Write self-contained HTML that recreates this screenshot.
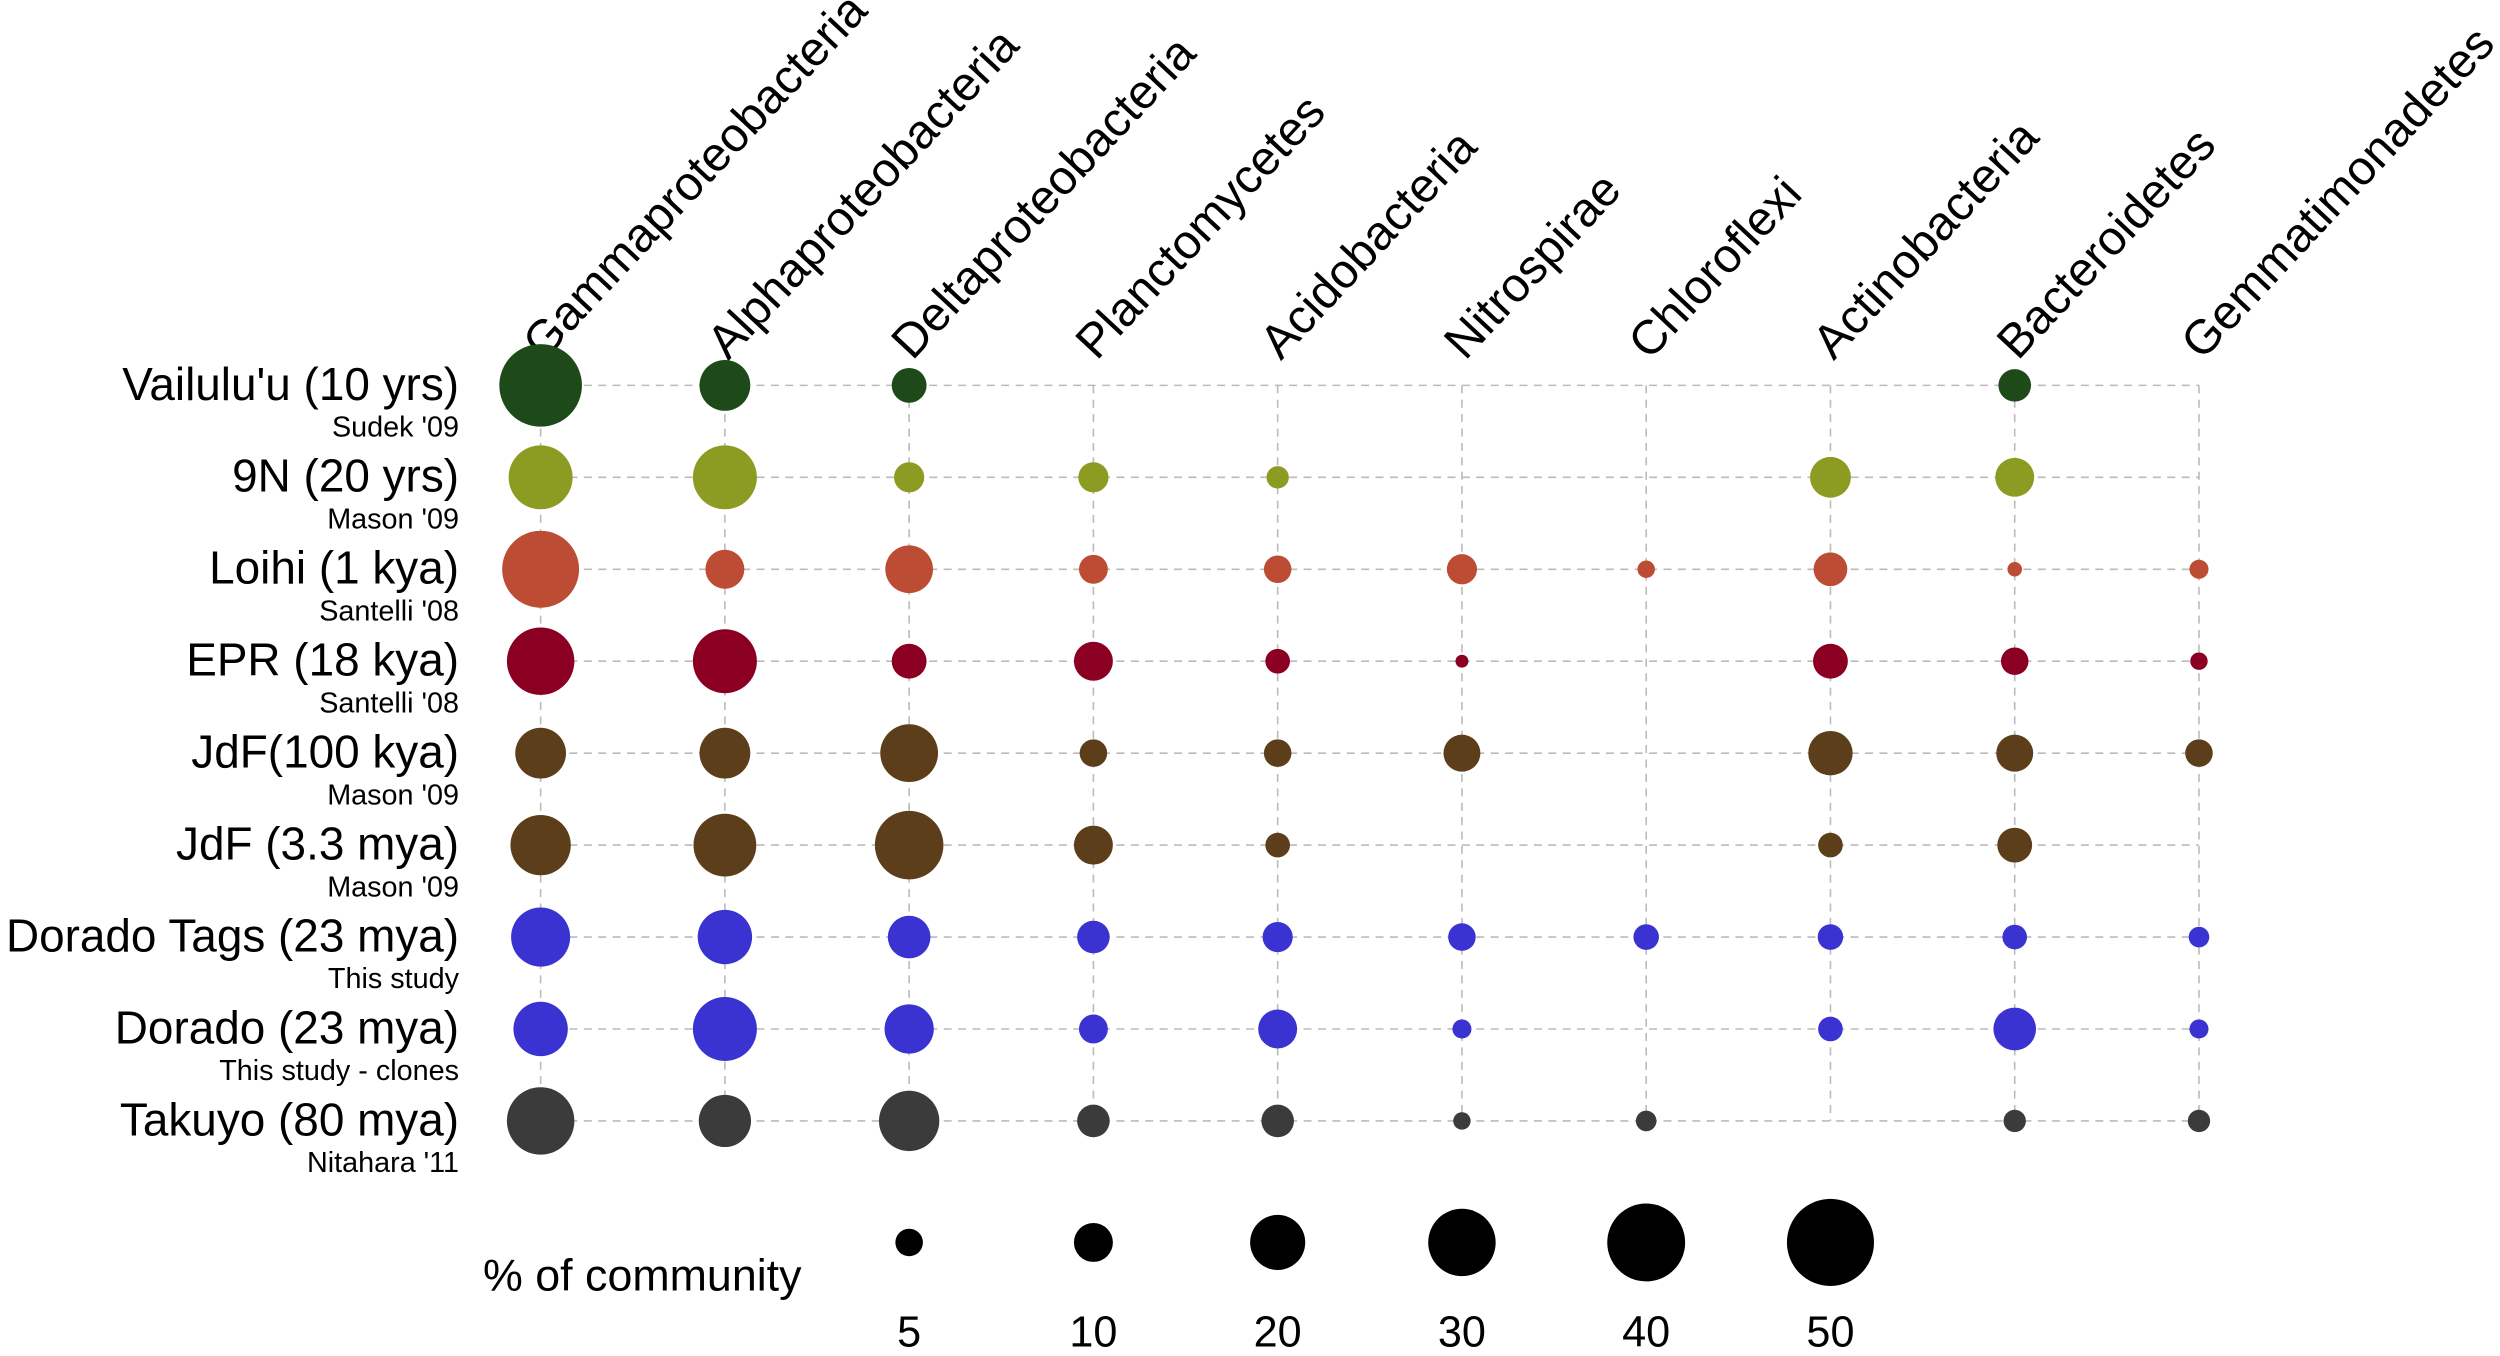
<!DOCTYPE html>
<html><head><meta charset="utf-8"><style>
html,body{margin:0;padding:0;background:#fff;}
svg{display:block;font-family:"Liberation Sans",sans-serif;}
</style></head><body>
<svg id="chart" width="2500" height="1356" viewBox="0 0 1563 848" preserveAspectRatio="none" xmlns="http://www.w3.org/2000/svg">
<g id="grid"></g>
<g id="headers"></g>
<g id="rows"></g>
<g id="bubbles"></g>
<g id="legend"></g>
</svg>
<script>
const taxa = ["Gammaproteobacteria","Alphaproteobacteria","Deltaproteobacteria","Planctomycetes","Acidobacteria","Nitrospirae","Chloroflexi","Actinobacteria","Bacteroidetes","Gemmatimonadetes"];
const sites = ["Vailulu'u (10 yrs)","9N (20 yrs)","Loihi (1 kya)","EPR (18 kya)","JdF(100 kya)","JdF (3.3 mya)","Dorado Tags (23 mya)","Dorado (23 mya)","Takuyo (80 mya)"];
const sources = ["Sudek '09","Mason '09","Santelli '08","Santelli '08","Mason '09","Mason '09","This study","This study - clones","Nitahara '11"];
const colors = ["#1d4a18","#8c9b22","#bd4c34","#8b0022","#5c3f1a","#5c3f1a","#3a33d2","#3a33d2","#3b3b3b"];
const vailulu = [45,17,8,0,0,0,0,0,7,0];
const nineN = [27,27,6,6,3.3,0,0,11,10,0];
const loihi = [39,10,15,5.5,5,6,2,7.5,1.4,2.4];
const epr = [30,27,8,10,4,1.1,0,8,5,2];
const jdf100 = [17,17,22,5,5,9,0,13,9,5];
const jdf33 = [24,26,31,10,4,0,0,4,8,0];
const doradoTags = [23,19.5,12,7,6,5,4.3,4.3,4,2.8];
const doradoClones = [19.5,27,16,5.5,10,2.4,0,4,12,2.4];
const takuyo = [30,18,24,7,7,2,2.8,0,3.3,3.3];
const values = [vailulu,nineN,loihi,epr,jdf100,jdf33,doradoTags,doradoClones,takuyo];
const legendValues = [5,10,20,30,40,50];

const NS="http://www.w3.org/2000/svg";
const xOf = i => 338 + i*115.2;
const yOf = j => 241 + j*57.5;
const rOf = v => 3.85*Math.sqrt(v);
function mk(tag, attrs, parent){const e=document.createElementNS(NS,tag);for(const k in attrs)e.setAttribute(k,attrs[k]);parent.appendChild(e);return e;}
const grid=document.getElementById('grid'), hd=document.getElementById('headers'), rl=document.getElementById('rows'), bb=document.getElementById('bubbles'), lg=document.getElementById('legend');
const x0=xOf(0), x1=xOf(taxa.length-1), y0=yOf(0), y1=yOf(sites.length-1);
sites.forEach((s,j)=>{
  const l=mk('line',{x1:x0,x2:x1,y1:yOf(j),y2:yOf(j),stroke:'#bbb','stroke-width':1,'stroke-dasharray':'5,4'},grid);
  
  
  const t=mk('text',{x:287,y:yOf(j)+9,'text-anchor':'end','font-size':28.7},rl);
  t.textContent=s;
  
  
  const t2=mk('text',{x:287,y:yOf(j)+32,'text-anchor':'end','font-size':18},rl);
  t2.textContent=sources[j];
  
  
});
taxa.forEach((tx,i)=>{
  const l=mk('line',{x1:xOf(i),x2:xOf(i),y1:y0,y2:y1,stroke:'#bbb','stroke-width':1,'stroke-dasharray':'5,4'},grid);
  
  
  const t=mk('text',{x:0,y:0,'font-size':30,transform:`translate(${xOf(i)+2},${226}) rotate(-47)`},hd);
  t.textContent=tx;
  
  
});
values.forEach((row,j)=>row.forEach((v,i)=>{
  if(!v) return;
  const c=mk('circle',{cx:xOf(i),cy:yOf(j),r:rOf(v),fill:colors[j]},bb);
  
  
}));
const lt=mk('text',{x:302,y:807,'font-size':28},lg);
lt.textContent='% of community';


legendValues.forEach((v,k)=>{
  const c=mk('circle',{cx:xOf(k+2),cy:777,r:rOf(v),fill:'#000'},lg);
  
  
  const t=mk('text',{x:xOf(k+2),y:842,'text-anchor':'middle','font-size':27},lg);
  t.textContent=v;
  
  
});
</script>
</body></html>
